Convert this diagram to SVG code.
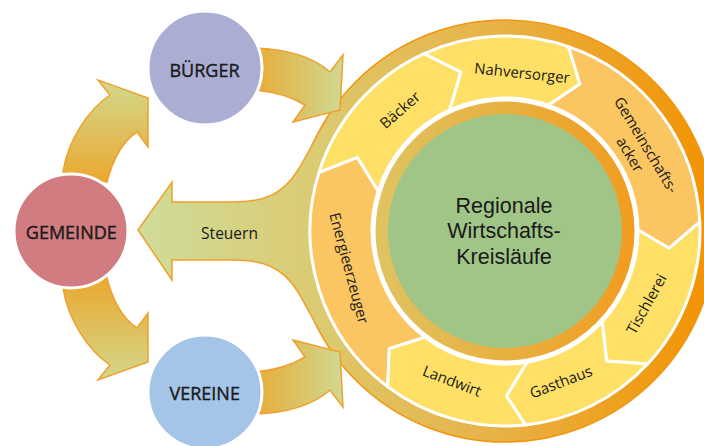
<svg xmlns="http://www.w3.org/2000/svg" width="704" height="446" viewBox="0 0 704 446">
<style>
.lbl{font-family:"Open Sans","Noto Sans","Liberation Sans",sans-serif;fill:#1a1a1a;font-weight:500}
.node{font-size:18px;text-anchor:middle;stroke:#1a1a1a;stroke-width:0.4}
.seg{font-size:15px;text-anchor:middle}
.ctr{font-family:"Liberation Sans","Open Sans",sans-serif;font-size:21.5px;text-anchor:middle;font-weight:normal}
.segY{fill:#fee067;stroke:#fff;stroke-width:3;stroke-linejoin:round}
.segO{fill:#fbc561;stroke:#fff;stroke-width:3;stroke-linejoin:round}
.arr{stroke:#f0a02c;stroke-width:1.5;stroke-linejoin:miter}
</style>
<defs>
<linearGradient id="gBand" gradientUnits="userSpaceOnUse" x1="294" y1="0" x2="716" y2="0">
<stop offset="0" stop-color="#dcc96e"/><stop offset="0.45" stop-color="#e7b44a"/><stop offset="1" stop-color="#f39200"/>
</linearGradient>
<linearGradient id="gInner" gradientUnits="userSpaceOnUse" x1="375" y1="0" x2="635" y2="0">
<stop offset="0" stop-color="#dfc462"/><stop offset="1" stop-color="#f19c1f"/>
</linearGradient>
<linearGradient id="gSt" gradientUnits="userSpaceOnUse" x1="138" y1="0" x2="335" y2="0">
<stop offset="0" stop-color="#cfdc9a"/><stop offset="1" stop-color="#dcc96e"/>
</linearGradient>
<linearGradient id="gA1" gradientUnits="userSpaceOnUse" x1="0" y1="182" x2="0" y2="80">
<stop offset="0" stop-color="#eba830"/><stop offset="1" stop-color="#d2d98e"/>
</linearGradient>
<linearGradient id="gA2" gradientUnits="userSpaceOnUse" x1="0" y1="278" x2="0" y2="382">
<stop offset="0" stop-color="#eba830"/><stop offset="1" stop-color="#d2d98e"/>
</linearGradient>
<linearGradient id="gA3" gradientUnits="userSpaceOnUse" x1="255" y1="0" x2="343" y2="0">
<stop offset="0" stop-color="#e8ac38"/><stop offset="1" stop-color="#cfd992"/>
</linearGradient>
</defs>

<g id="ring-band">
<circle cx="505" cy="231" r="211" fill="url(#gBand)" stroke="#f0960f" stroke-width="1.5"/>
</g>

<g id="connectors">
<g id="steuern">
<path d="M138,230 L172,182 L172,202 L233,202 C262,202 282,196 298,170 C310,150 320,128 331,112 L365,112 L365,350 L331,350 C320,334 310,312 298,292 C282,266 262,260 233,260 L172,260 L172,280 Z" fill="url(#gSt)"/>
<path class="arr" fill="none" d="M331,112 C320,128 310,150 298,170 C282,196 262,202 233,202 L172,202 L172,182 L138,230 L172,280 L172,260 L233,260 C262,260 282,266 298,292 C310,312 320,334 331,350"/>
<text class="lbl" x="229.5" y="239" font-size="15.5" text-anchor="middle">Steuern</text>
</g>
<path id="a-gem-buerger" class="arr" fill="url(#gA1)" d="M63,172 C68,140 88,110 110,95 L98,80 L148,98 L148,147 L137,132 C124,140 113,158 107,182 Z"/>
<path id="a-gem-vereine" class="arr" fill="url(#gA2)" d="M63,288 C68,320 88,350 110,365 L98,380 L148,362 L148,313 L137,328 C124,320 113,302 107,278 Z"/>
<path id="a-buerger-ring" class="arr" fill="url(#gA3)" d="M255,48 C285,49 312,56 330,72 L343,55 L340,110 L293,122 L305,105 C292,97 278,92 255,90 Z"/>
<path id="a-vereine-ring" class="arr" fill="url(#gA3)" d="M255,414 C285,413 312,406 330,390 L343,407 L340,352 L293,340 L305,357 C292,365 278,370 255,372 Z"/>
</g>

<g id="segments">
<g id="seg-energie">
<path class="segO" d="M387.65,386.73 A195,195 0 0 1 319.03,172.36 L357.34,157.38 L378.15,191.01 A134,134 0 0 0 424.96,337.22 L389.35,348.69 Z"/>
<text class="lbl seg" transform="translate(349,268) rotate(75)" dy="0.35em">Energieerzeuger</text>
</g>
<g id="seg-baecker">
<path class="segY" d="M319.03,172.36 A195,195 0 0 1 424.13,53.56 L460.91,72 L449.85,109.98 A134,134 0 0 0 378.15,191.01 L357.34,157.38 Z"/>
<text class="lbl seg" transform="translate(400,110) rotate(-41)" dy="0.35em">Bäcker</text>
</g>
<g id="seg-nahversorger">
<path class="segY" d="M424.13,53.56 A195,195 0 0 1 568.49,46.62 L579.91,83.98 L548.3,105.25 A134,134 0 0 0 449.85,109.98 L460.91,72 Z"/>
<text class="lbl seg" transform="translate(522,73) rotate(6)" dy="0.35em">Nahversorger</text>
</g>
<g id="seg-gemeinschaftsacker">
<path class="segO" d="M568.49,46.62 A195,195 0 0 1 699.78,221.81 L669.1,248.25 L637.99,230.07 A134,134 0 0 0 548.3,105.25 L579.91,83.98 Z"/>
<text class="lbl seg" transform="translate(646,145) rotate(59)" dy="0.35em">Gemeinschafts-</text>
<text class="lbl seg" transform="translate(630,154.5) rotate(59)" dy="0.35em">acker</text>
</g>
<g id="seg-tischlerei">
<path class="segY" d="M699.78,221.81 A195,195 0 0 1 647.61,363.99 L606.58,361.02 L602.27,321.71 A134,134 0 0 0 637.99,230.07 L669.1,248.25 Z"/>
<text class="lbl seg" transform="translate(646.5,304) rotate(-61)" dy="0.35em">Tischlerei</text>
</g>
<g id="seg-gasthaus">
<path class="segY" d="M647.61,363.99 A195,195 0 0 1 525.38,424.93 L506.44,395.99 L526.95,362.18 A134,134 0 0 0 602.27,321.71 L606.58,361.02 Z"/>
<text class="lbl seg" transform="translate(561,382) rotate(-21)" dy="0.35em">Gasthaus</text>
</g>
<g id="seg-landwirt">
<path class="segY" d="M525.38,424.93 A195,195 0 0 1 387.65,386.73 L389.35,348.69 L424.96,337.22 A134,134 0 0 0 526.95,362.18 L506.44,395.99 Z"/>
<text class="lbl seg" transform="translate(452,381) rotate(21)" dy="0.35em">Landwirt</text>
</g>
</g>

<g id="center">
<circle cx="505" cy="231" r="133" fill="#fff"/>
<circle cx="505" cy="231" r="129.5" fill="url(#gInner)"/>
<circle cx="505" cy="231" r="117" fill="#a0c586"/>
<text class="lbl ctr" x="504" y="213">Regionale</text>
<text class="lbl ctr" x="504" y="238">Wirtschafts-</text>
<text class="lbl ctr" x="504" y="263.5">Kreisläufe</text>
</g>

<g id="node-buerger">
<circle cx="205" cy="68" r="57" fill="#abadd3" stroke="#fff" stroke-width="3"/>
<text class="lbl node" x="204.5" y="76.5">BÜRGER</text>
</g>
<g id="node-gemeinde">
<circle cx="71" cy="231" r="57" fill="#d07c80" stroke="#fff" stroke-width="3"/>
<text class="lbl node" x="71.3" y="239">GEMEINDE</text>
</g>
<g id="node-vereine">
<circle cx="205" cy="392" r="57" fill="#a4c4e8" stroke="#fff" stroke-width="3"/>
<text class="lbl node" x="204.7" y="400">VEREINE</text>
</g>
</svg>
